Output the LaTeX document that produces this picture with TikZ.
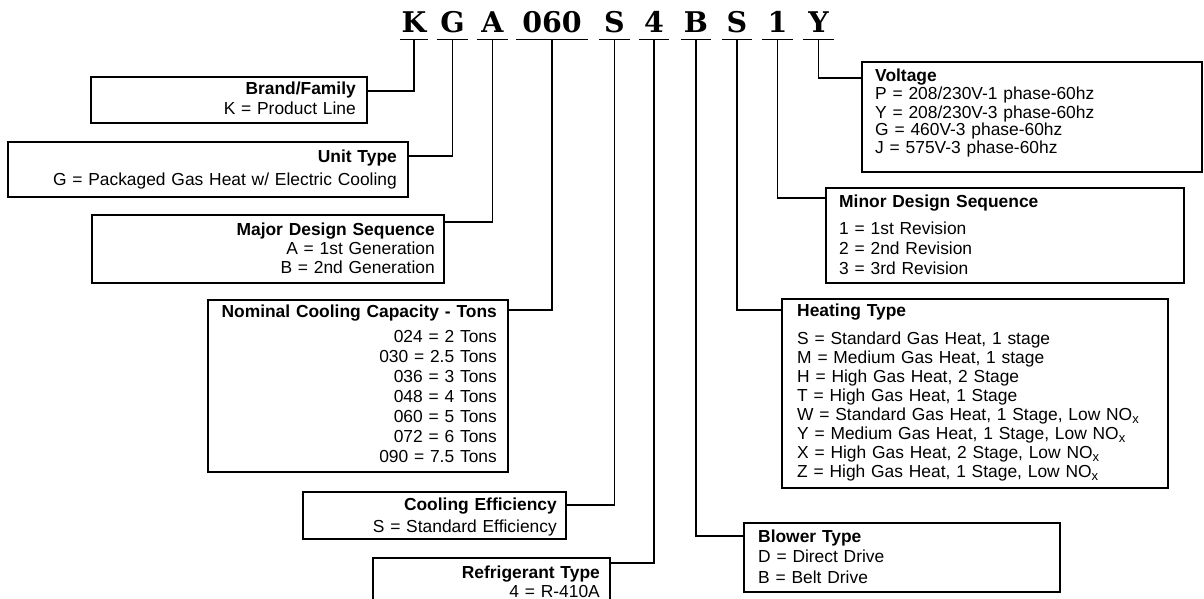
\documentclass[tikz,border=0pt]{standalone}
\usepackage{fontspec}
\setmainfont{Liberation Sans}
\newfontfamily\codefont{DejaVu Serif}
\newcommand\subx{\raisebox{-3.5pt}{\fontsize{13}{13}\selectfont x}}
\begin{document}
\begin{tikzpicture}[x=1pt,y=-1pt,
  conn/.style={line width=1.6pt},
  box/.style={draw, line width=1.3pt, inner sep=0pt, outer sep=0pt, rectangle, anchor=north west},
  code/.style={font=\codefont\bfseries\fontsize{28.5}{29}\selectfont, anchor=base, inner xsep=0pt, inner ysep=6.5pt, text depth=0pt, minimum width=31pt},
  ltxt/.style={anchor=base east, align=right, text width=390pt, inner sep=0pt},
  rtxt/.style={anchor=base west, align=left, text width=390pt, inner sep=0pt},
  fs/.style={font=\fontsize{17.4}{#1}\selectfont}
]
\useasboundingbox (0,0) rectangle (1204,599);

% code letters
\node[code, minimum width=28pt] (lK) at (414,33) {K};
\node[code] (lG) at (452.5,33) {G};
\node[code] (lA) at (492.5,33) {A};
\node[code, minimum width=72pt] (l060) at (552,33) {060};
\node[code] (lS1) at (614.5,33) {S};
\node[code, minimum width=30pt] (l4) at (654,33) {4};
\node[code, minimum width=30pt] (lB) at (696,33) {B};
\node[code, minimum width=30pt] (lS2) at (737,33) {S};
\node[code] (l1) at (777.5,33) {1};
\node[code] (lY) at (818.5,33) {Y};
\foreach \n in {lK,lG,lA,l060,lS1,l4,lB,lS2,l1,lY}
  \draw[conn] (\n.south west) -- (\n.south east);

% boxes
\node[box, minimum width=276pt, minimum height=46pt] (bBrand) at (91,77) {};
\node[box, minimum width=400pt, minimum height=55pt] (bUnit) at (8,142) {};
\node[box, minimum width=352pt, minimum height=68pt] (bMajor) at (92,215) {};
\node[box, minimum width=300pt, minimum height=172pt] (bNom) at (208,300) {};
\node[box, minimum width=263pt, minimum height=47pt] (bEff) at (303,492) {};
\node[box, minimum width=237pt, minimum height=60pt] (bRef) at (373,558) {};
\node[box, minimum width=340pt, minimum height=110pt] (bVolt) at (862,62) {};
\node[box, minimum width=358pt, minimum height=95pt] (bMinor) at (826,188) {};
\node[box, minimum width=386pt, minimum height=189pt] (bHeat) at (782,299) {};
\node[box, minimum width=316pt, minimum height=69pt] (bBlow) at (744,523) {};

% texts (left boxes)
\node[ltxt, fs=20] (tBrand) at ([xshift=-11pt,yshift=-18pt]bBrand.north east)
  {\textbf{Brand/Family}\\K = Product Line};
\node[ltxt, fs=23] (tUnit) at ([xshift=-11pt,yshift=-20pt]bUnit.north east)
  {\textbf{Unit Type}\\G = Packaged Gas Heat w/ Electric Cooling};
\node[ltxt, fs=19] (tMajor) at ([xshift=-9pt,yshift=-20pt]bMajor.north east)
  {\textbf{Major Design Sequence}\\A = 1st Generation\\B = 2nd Generation};
\node[ltxt, fs=20] (tNom) at ([xshift=-11pt,yshift=-17pt]bNom.north east)
  {\textbf{Nominal Cooling Capacity - Tons}\\[5pt]024 = 2 Tons\\030 = 2.5 Tons\\036 = 3 Tons\\048 = 4 Tons\\060 = 5 Tons\\072 = 6 Tons\\090 = 7.5 Tons};
\node[ltxt, fs=22] (tEff) at ([xshift=-9pt,yshift=-18pt]bEff.north east)
  {\textbf{Cooling Efficiency}\\S = Standard Efficiency};
\node[ltxt, fs=19] (tRef) at ([xshift=-10pt,yshift=-20pt]bRef.north east)
  {\textbf{Refrigerant Type}\\4 = R-410A};

% texts (right boxes)
\node[rtxt, fs=18] (tVolt) at ([xshift=13pt,yshift=-20pt]bVolt.north west)
  {\textbf{Voltage}\\P = 208/230V-1 phase-60hz\\Y = 208/230V-3 phase-60hz\\G = 460V-3 phase-60hz\\J = 575V-3 phase-60hz};
\node[rtxt, fs=20] (tMinor) at ([xshift=13pt,yshift=-19pt]bMinor.north west)
  {\textbf{Minor Design Sequence}\\[7pt]1 = 1st Revision\\2 = 2nd Revision\\3 = 3rd Revision};
\node[rtxt, fs=19] (tHeat) at ([xshift=15pt,yshift=-17pt]bHeat.north west)
  {\textbf{Heating Type}\\[9pt]S = Standard Gas Heat, 1 stage\\M = Medium Gas Heat, 1 stage\\H = High Gas Heat, 2 Stage\\T = High Gas Heat, 1 Stage\\W = Standard Gas Heat, 1 Stage, Low NO\subx\\Y = Medium Gas Heat, 1 Stage, Low NO\subx\\X = High Gas Heat, 2 Stage, Low NO\subx\\Z = High Gas Heat, 1 Stage, Low NO\subx};
\node[rtxt, fs=20.5] (tBlow) at ([xshift=14pt,yshift=-19pt]bBlow.north west)
  {\textbf{Blower Type}\\D = Direct Drive\\B = Belt Drive};

% connectors
\draw[conn] (lK.south) |- ([yshift=-14pt]bBrand.north east);
\draw[conn] (lG.south) |- ([yshift=-14pt]bUnit.north east);
\draw[conn] (lA.south) |- ([yshift=-7pt]bMajor.north east);
\draw[conn] (l060.south) |- ([yshift=-10pt]bNom.north east);
\draw[conn] (lS1.south) |- ([yshift=-13pt]bEff.north east);
\draw[conn] (l4.south) |- ([yshift=-5pt]bRef.north east);
\draw[conn] (lY.south) |- ([yshift=-16pt]bVolt.north west);
\draw[conn] (l1.south) |- ([yshift=-10pt]bMinor.north west);
\draw[conn] (lS2.south) |- ([yshift=-11pt]bHeat.north west);
\draw[conn] (lB.south) |- ([yshift=-13pt]bBlow.north west);
\end{tikzpicture}
\end{document}
